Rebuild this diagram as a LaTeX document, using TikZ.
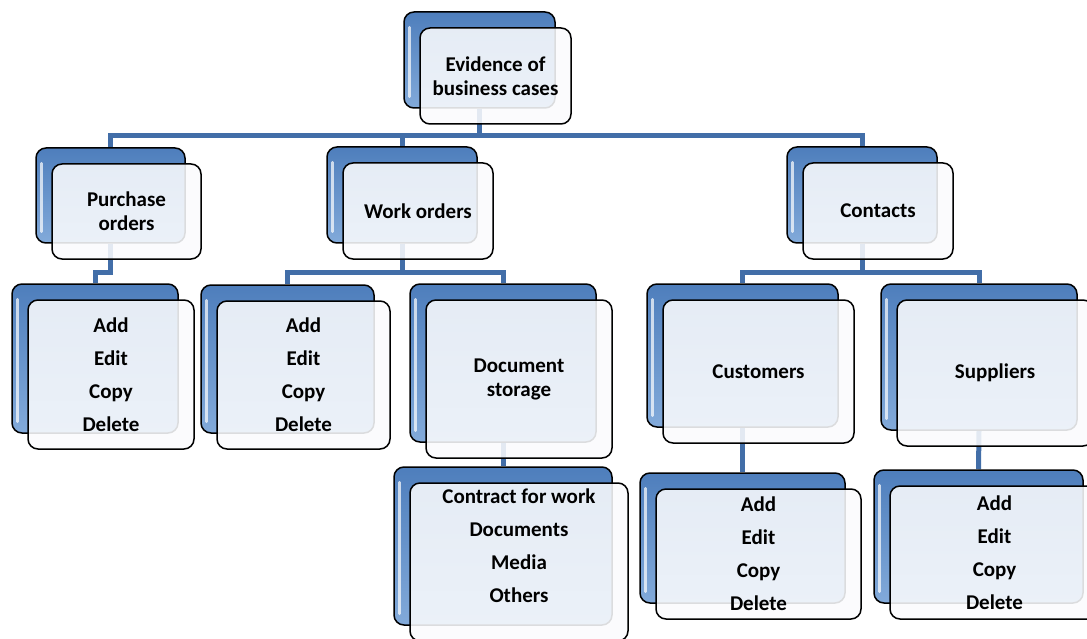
\documentclass[tikz,border=0pt]{standalone}
\usepackage{fontspec}
\setmainfont{Carlito}
\usetikzlibrary{calc}
\pgfdeclarelayer{bg}
\pgfsetlayers{bg,main}
\definecolor{conn}{RGB}{66,110,168}
\definecolor{bktop}{RGB}{78,126,188}
\definecolor{bkbot}{RGB}{130,170,218}
\definecolor{frfill}{RGB}{250,251,253}
\newcommand{\pairbox}[7][]{%
  \pgfmathsetmacro\bxw{#5-#3}%
  \pgfmathsetmacro\bxh{#6-#4}%
  \node[backbox, minimum width=\bxw pt, minimum height=\bxh pt] (#2B) at ({(#3+#5)/2},{(#4+#6)/2}) {};
  \draw[hilite] ([xshift=6pt,yshift=-16pt]#2B.north west) -- ([xshift=6pt,yshift=12pt]#2B.south west);
  \node[frontbox, minimum width=\bxw pt, minimum height=\bxh pt, #1] (#2) at ($(#2B.center)+(16,16)$) {#7};
}
\begin{document}
\begin{tikzpicture}[x=1pt,y=-1pt,
  backbox/.style={draw=black, line width=1.5pt, rounded corners=10pt, top color=bktop, bottom color=bkbot, inner sep=0pt},
  frontbox/.style={draw=black, line width=1.5pt, rounded corners=10pt, fill=frfill, fill opacity=0.88, text opacity=1, inner sep=0pt, align=center, font=\bfseries\fontsize{21}{24}\selectfont},
  listbox/.style={font=\bfseries\fontsize{21}{33}\selectfont},
  hilite/.style={draw=white, line width=2.5pt, line cap=round, opacity=0.7},
  link/.style={draw=conn, line width=5pt},
  listtext/.style={align=center, font=\bfseries\fontsize{21}{33}\selectfont, inner sep=0pt}
  ]
\useasboundingbox (0,0) rectangle (1087,639);
\pairbox{root}{404}{12}{555}{108}{Evidence of\\business cases}
\pairbox{po}{36}{148}{185}{243}{Purchase\\orders}
\pairbox{wo}{327}{147}{477}{243}{Work orders}
\pairbox{ct}{787}{147}{937}{243}{Contacts}
\pairbox[listbox]{poa}{12}{284}{178}{433}{Add\\Edit\\Copy\\Delete}
\pairbox[listbox]{woa}{201}{285}{374}{433}{Add\\Edit\\Copy\\Delete}
\pairbox{doc}{410}{284}{596}{442}{Document\\storage}
\pairbox{list}{394}{467}{612}{625}{}
\node[listtext] (listT) at ($(listB.center)+(16,0)$) {Contract for work\\Documents\\Media\\Others};
\pairbox{cu}{647}{284}{838}{427}{Customers}
\pairbox{su}{881}{284}{1077}{430}{Suppliers}
\pairbox[listbox]{cua}{640}{473}{845}{603}{Add\\Edit\\Copy\\Delete}
\pairbox[listbox]{sua}{874}{470}{1083}{603}{Add\\Edit\\Copy\\Delete}
\begin{pgfonlayer}{bg}
\coordinate (bus0) at (0,136);
\coordinate (bus1) at (0,272);
\draw[link] (rootB.south) -- (rootB.south |- bus0) -| (poB.north);
\draw[link] (rootB.south |- bus0) -| (woB.north);
\draw[link] (rootB.south |- bus0) -| (ctB.north);
\draw[link] (poB.south) -- (poB.south |- bus1) -| (poaB.north);
\draw[link] (woB.south) -- (woB.south |- bus1) -| (woaB.north);
\draw[link] (woB.south |- bus1) -| (docB.north);
\draw[link] (docB.south) -- (listB.north);
\draw[link] (ctB.south) -- (ctB.south |- bus1) -| (cuB.north);
\draw[link] (ctB.south |- bus1) -| (suB.north);
\draw[link] (cuB.south) -- (cuaB.north);
\draw[link] (suB.south) -- (suaB.north);
\end{pgfonlayer}
\end{tikzpicture}
\end{document}
